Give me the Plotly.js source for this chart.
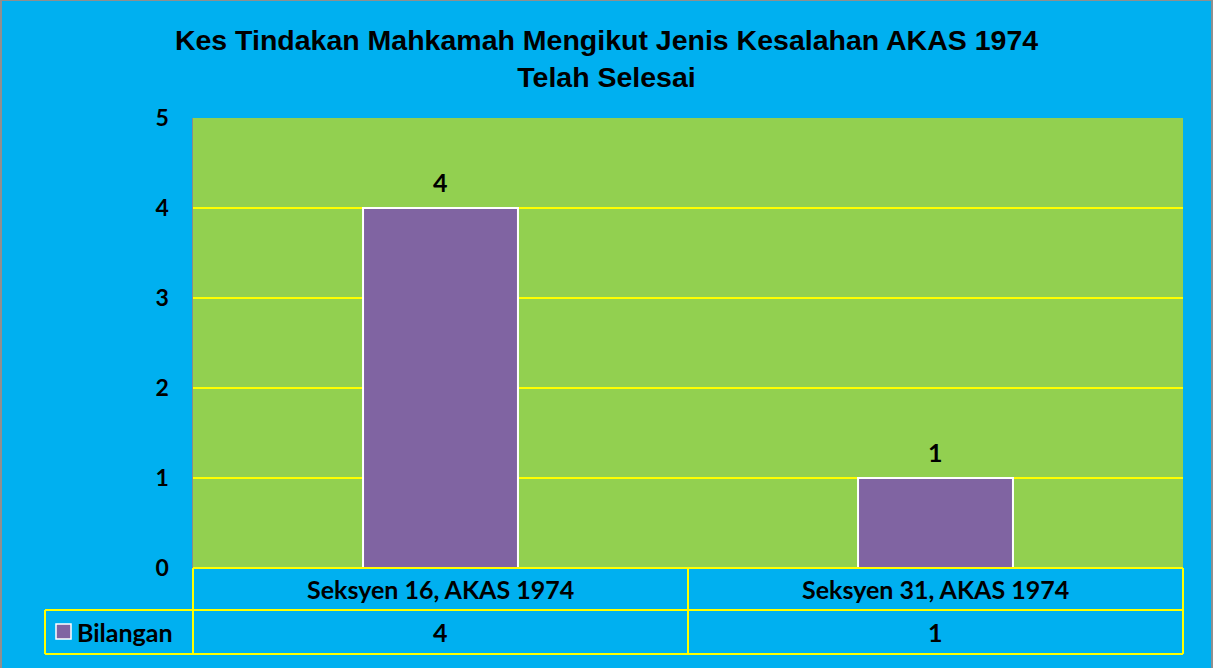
<!DOCTYPE html>
<html>
<head>
<meta charset="utf-8">
<script src="https://cdn.plot.ly/plotly-3.0.1.min.js"></script>
<style>
html,body{margin:0;padding:0;background:#ffffff;}
#wrap{width:1213px;height:668px;box-sizing:border-box;border-top:1px solid #8f8f8f;border-left:2px solid #8f8f8f;border-right:2px solid #8f8f8f;overflow:hidden;background:#00B0F0;}
#chart{width:1209px;height:667px;}
</style>
</head>
<body>
<div id="wrap"><div id="chart"></div></div>
<script>
const categories = ["Seksyen 16, AKAS 1974", "Seksyen 31, AKAS 1974"];
const seriesName = "Bilangan";
const values = [4, 1];
const yTicks = [0, 1, 2, 3, 4, 5];

const W = 1209, H = 667;
const L = 191, R = W - 1181, T = 117, B = H - 567;
const plotW = W - L - R, plotH = H - T - B;
const px = v => v / plotW;      // px offset -> paper x
const py = v => v / plotH;      // px offset -> paper y

const yellow = "#FFFF00";
const row1 = -py(42), row2 = -py(86);
const legendLeft = -px(148);

const shapes = [
  {type:"line", xref:"paper", yref:"paper", x0:0, x1:1, y0:0, y1:0, line:{color:yellow, width:2}},
  {type:"line", xref:"paper", yref:"paper", x0:legendLeft, x1:1, y0:row1, y1:row1, line:{color:yellow, width:2}},
  {type:"line", xref:"paper", yref:"paper", x0:legendLeft, x1:1, y0:row2, y1:row2, line:{color:yellow, width:2}},
  {type:"line", xref:"paper", yref:"paper", x0:0, x1:0, y0:0, y1:row2, line:{color:yellow, width:2}},
  {type:"line", xref:"paper", yref:"paper", x0:0.5, x1:0.5, y0:0, y1:row2, line:{color:yellow, width:2}},
  {type:"line", xref:"paper", yref:"paper", x0:1, x1:1, y0:0, y1:row2, line:{color:yellow, width:2}},
  {type:"line", xref:"paper", yref:"paper", x0:legendLeft, x1:legendLeft, y0:row1, y1:row2, line:{color:yellow, width:2}},
  {type:"rect", xref:"paper", yref:"paper", x0:-px(137), x1:-px(122), y0:row1 - py(14), y1:row1 - py(29),
   fillcolor:"#8064A2", line:{color:"#ffffff", width:1.5}}
];

const tableFont = {family:"Lato, 'Open Sans', sans-serif", size:25, color:"#000000", weight:700};

const annotations = [];
categories.forEach((c, i) => {
  annotations.push({xref:"x", yref:"paper", x:c, y:row1/2, text:"<b>"+c+"</b>", showarrow:false, font:tableFont, yanchor:"middle"});
  annotations.push({xref:"x", yref:"paper", x:c, y:(row1+row2)/2, text:"<b>"+values[i]+"</b>", showarrow:false, font:tableFont, yanchor:"middle"});
  annotations.push({xref:"x", yref:"y", x:c, y:values[i], text:"<b>"+values[i]+"</b>", showarrow:false, font:tableFont, yanchor:"bottom", yshift:9});
});
annotations.push({xref:"paper", yref:"paper", x:-px(118), y:(row1+row2)/2, text:"<b>"+seriesName+"</b>", showarrow:false, font:tableFont, xanchor:"left", yanchor:"middle"});

const trace = {
  type:"bar",
  x:categories,
  y:values,
  name:seriesName,
  marker:{color:"#8064A2", line:{color:"#ffffff", width:2}},
  hoverinfo:"x+y"
};

const layout = {
  width:W, height:H,
  margin:{l:L, r:R, t:T, b:B, pad:0},
  paper_bgcolor:"#00B0F0",
  plot_bgcolor:"#92D050",
  showlegend:false,
  bargap:0.687,
  title:{
    text:"<b>Kes Tindakan Mahkamah Mengikut Jenis Kesalahan AKAS 1974<br>Telah Selesai</b>",
    font:{family:"Liberation Sans, Arial, sans-serif", size:28.5, color:"#000000"},
    x:0.5, xref:"container", xanchor:"center",
    y:1 - 49/H, yref:"container", yanchor:"middle"
  },
  xaxis:{
    showticklabels:false, showgrid:false, zeroline:false, showline:false, ticks:""
  },
  yaxis:{
    range:[0,5], tickvals:yTicks, ticktext:yTicks.map(String),
    showgrid:true, gridcolor:yellow, gridwidth:1.5,
    zeroline:false, showline:true, linecolor:"#8a8a8a", linewidth:1.5,
    ticks:"", ticklabelstandoff:18,
    tickfont:{family:"Lato, 'Open Sans', sans-serif", size:23, color:"#000000", weight:700}
  },
  shapes:shapes,
  annotations:annotations
};

Plotly.newPlot("chart", [trace], layout, {displayModeBar:false, staticPlot:true});
</script>
</body>
</html>
